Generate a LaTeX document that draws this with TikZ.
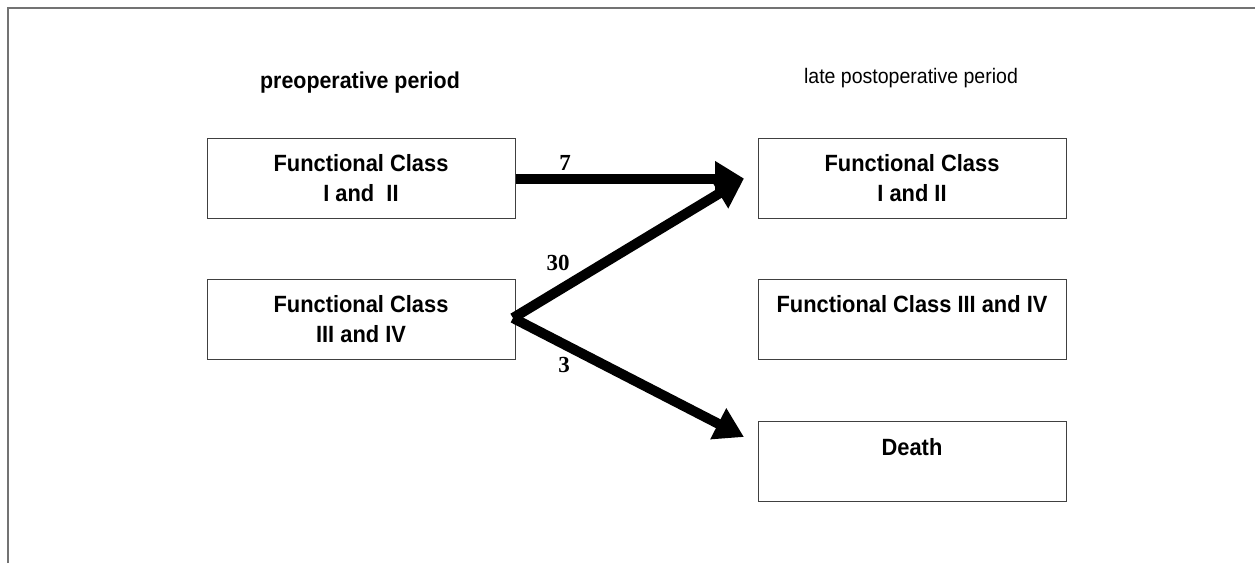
\documentclass[tikz,border=0pt]{standalone}
\usepackage{fontspec}
\setmainfont{Liberation Sans}
\newfontfamily\boxfont{Liberation Sans}[FakeStretch=0.93]
\newfontfamily\numfont{Liberation Serif}
\usetikzlibrary{arrows.meta}
\begin{document}
\begin{tikzpicture}[x=1pt,y=-1pt,
  classbox/.style={draw=black!75,line width=1pt,minimum width=308pt,minimum height=80pt,
    inner sep=0pt,align=center,font=\boxfont\bfseries\fontsize{23.5}{30}\selectfont},
  heading/.style={inner sep=0pt},
  flow/.style={line width=10pt,-{Triangle[length=29pt,width=33pt]}},
  count/.style={inner sep=0pt,font=\numfont\bfseries\fontsize{23}{24}\selectfont},
  frameline/.style={draw=black!55,line width=1.2pt}]
\useasboundingbox (0,0) rectangle (1255,563);
\fill[white] (0,0) rectangle (1255,563);
\coordinate (fa) at (8,563);
\coordinate (fb) at (8,8);
\coordinate (fc) at (1255,8);
\draw[frameline] (fa) -- (fb) -- (fc);

\node[heading,font=\boxfont\bfseries\fontsize{23}{24}\selectfont] (h1) at (360,83) {preoperative period};
\node[heading,font=\boxfont\fontsize{21}{22}\selectfont] (h2) at (911,78) {late postoperative period};

\node[classbox] (l1) at (361,178) {Functional Class\\I and\ \ II};
\node[classbox] (l2) at (361,319.5) {Functional Class\\III and IV};
\node[classbox] (r1) at (912,178) {Functional Class\\I and II};
\node[classbox] (r2) at (912,319) {Functional Class III and IV\\\phantom{I}};
\node[classbox] (r3) at (912,461.5) {Death\\\phantom{I}};

\coordinate (tipa) at (744,178.5);
\coordinate (tipb) at (744,437);
\coordinate (src) at (513,318);
\draw[flow] (l1.east |- tipa) -- (tipa);
\draw[flow] (src) -- (tipa);
\draw[flow] (src) -- (tipb);

\node[count] (n7) at (565,163) {7};
\node[count] (n30) at (558,263) {30};
\node[count] (n3) at (564,365) {3};
\end{tikzpicture}
\end{document}
